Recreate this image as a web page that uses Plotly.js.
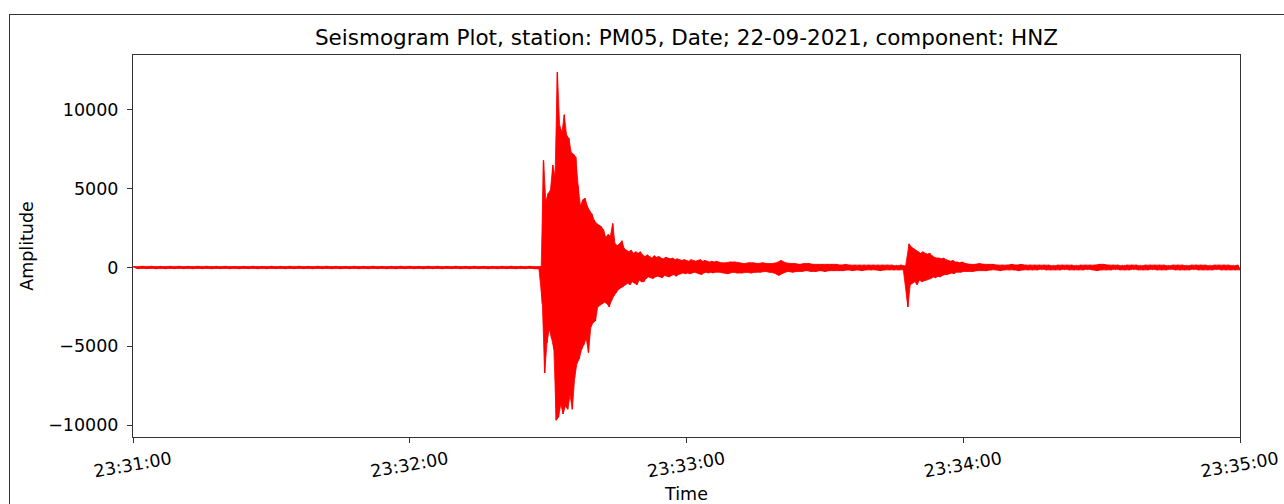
<!DOCTYPE html>
<html><head><meta charset="utf-8">
<script src="https://cdn.plot.ly/plotly-3.0.1.min.js"></script>
<style>
html,body{margin:0;padding:0;background:#fff;}
body{position:relative;width:1284px;height:504px;overflow:hidden;}
#chart{width:1284px;height:504px;}
#frame{position:absolute;left:9px;top:14px;width:1300px;height:600px;border-top:1.5px solid #333;border-left:1.5px solid #333;pointer-events:none;}
</style></head>
<body><div id="chart"></div><div id="frame"></div>
<script>
// ---- data (amplitude samples, counts) ----
var startTime = '2021-09-22 23:31:00';
var endTime = '2021-09-22 23:35:00';
var xTickLabels = ['23:31:00', '23:32:00', '23:33:00', '23:34:00', '23:35:00'];
var yTickValues = [-10000, -5000, 0, 5000, 10000];
var yTickLabels = ['\u221210000', '\u22125000', '0', '5000', '10000'];

// segment sample start (s after 23:31:00) and sample interval (s)
var segStart = [0, 88.5, 128, 168, 180.5];
var segStep = [1, 0.25, 0.5, 0.25, 0.5];

var quietAmp = [60,-70,70,-60,70,-70,60,-70,70,-60,
 70,-60,60,-70,70,-60,70,-70,60,-60,
 70,-70,60,-70,60,-60,70,-70,60,-70,
 70,-60,60,-70,70,-60,70,-60,60,-70,
 70,-60,70,-70,60,-70,60,-60,70,-70,
 60,-70,70,-60,60,-70,60,-70,70,-60,
 70,-60,60,-70,70,-60,70,-70,60,-60,
 70,-70,60,-70,70,-60,60,-70,60,-70,
 70,-60,70,-70,60,-60,70,-60,-60];

var mainAmp = [
 60,-2300,6800,-6700,
 4200,-4800,4700,-3900,
 4900,-4500,6500,-5200,
 5800,-9700,12400,-9500,
 9000,-8700,8600,-9300,
 9700,-8800,8400,-9000,
 8200,-8100,7300,-9000,
 7200,-7000,7000,-6100,
 5200,-5800,3900,-5200,
 4300,-4900,4400,-4500,
 3900,-5400,3600,-3800,
 3400,-3500,3000,-3400,
 2800,-2500,2700,-2400,
 2600,-2300,2400,-2200,
 1900,-2300,2100,-2500,
 2000,-2100,2800,-1800,
 1500,-1600,1400,-1400,
 1500,-1300,1700,-1200,
 1200,-1100,1100,-1000,
 1000,-1100,1100,-900,
 900,-1000,1000,-1100,
 900,-800,1000,-900,
 800,-900,700,-700,
 800,-600,700,-650,
 600,-700,750,-600,
 650,-550,700,-600,
 600,-650,550,-500,
 650,-550,600,-600,
 550,-500,600,-450,
 500,-550,550,-450,
 500,-400,450,-350,
 500,-400,450,-350,
 400,-400,500,-350,
 450,-300,400,-350,
 450,-400,500,-450,
 400,-350,450,-300,
 400,-350,350,-300,
 400,-350,350,-300,
 400,-300,350,-300,
 300];

var codaAmp = [
 -350,300,-400,350,-300,350,-350,300,-350,250,
 -300,300,-350,300,-300,250,-300,300,-250,250,
 -300,250,-350,300,-500,450,-350,300,-250,250,
 -300,250,-250,200,-250,250,-200,250,-250,200,
 -250,200,-200,200,-250,200,-200,200,-200,200,
 -200,150,-200,200,-150,150,-200,150,-150,150,
 -200,150,-150,150,-150,150,-150,150,-200,150,
 -150,150,-150,150,-150,100,-150,150,-150,100];

var secondAmp = [
 -2500,1500,-1100,1300,
 -1000,1200,-900,1100,
 -1100,1000,-800,900,
 -900,1000,-850,900,
 -800,850,-750,900,
 -700,750,-600,650,
 -650,600,-550,600,
 -600,550,-500,600,
 -450,500,-450,450,
 -400,400,-350,450,
 -400,350,-300,350,
 -300,300,-300,350,
 -250];

var tailAmp = [
 250,-250,200,-250,200,-200,250,-200,200,-200,200,-150,
 200,-150,150,-200,150,-150,150,-150,200,-150,150,-200,
 200,-150,150,-150,150,-150,150,-150,150,-100,150,-150,
 150,-150,100,-150,150,-150,150,-100,150,-150,150,-150,
 100,-150,150,-150,150,-100,150,-150,150,-200,200,-150,
 200,-150,150,-150,150,-100,150,-150,100,-150,150,-150,
 150,-100,150,-150,100,-150,150,-150,150,-100,150,-150,
 150,-150,150,-150,100,-100,150,-150,150,-150,150,-150,
 100,-150,150,-100,150,-150,150,-150,150,-150,100,-150,
 150,-100,150,-150,150,-150,150,-150,100,-150,150,-150];

// ---- build traces ----
function toMs(s){ var p = s.split(/[- :]/).map(Number); return Date.UTC(p[0], p[1]-1, p[2], p[3], p[4], p[5]); }
var t0 = toMs(startTime);
var segments = [quietAmp, mainAmp, codaAmp, secondAmp, tailAmp];
var xs = [], ys = [];
segments.forEach(function(seg, k){
  seg.forEach(function(v, i){ xs.push(t0 + (segStart[k] + i*segStep[k])*1000); ys.push(v); });
});
var xTickVals = xTickLabels.map(function(l){ return toMs('2021-09-22 ' + l); });

// envelope band: positive samples forward, negative samples back
var upX = [], upY = [], loX = [], loY = [];
xs.forEach(function(x, i){
  if (ys[i] >= 0) { upX.push(x); upY.push(ys[i]); } else { loX.push(x); loY.push(ys[i]); }
});
var band = {type:'scatter', mode:'lines', x:upX.concat(loX.slice().reverse()), y:upY.concat(loY.slice().reverse()),
  fill:'toself', fillcolor:'#ff0000', line:{color:'#ff0000', width:0.8, simplify:false}, hoverinfo:'skip'};

var trace = {type:'scatter', mode:'lines', x:xs, y:ys,
  line:{color:'#ff0000', width:1.4, simplify:false}, hoverinfo:'skip'};

var layout = {
  width:1284, height:504,
  margin:{l:133, r:44, t:55, b:67},
  paper_bgcolor:'#ffffff', plot_bgcolor:'#ffffff',
  font:{family:'DejaVu Sans, sans-serif', size:17.5, color:'#000'},
  showlegend:false,
  title:{text:'Seismogram Plot, station: PM05, Date; 22-09-2021, component: HNZ',
         font:{size:21.5, color:'#000'}, x:0.5, xref:'paper', xanchor:'center',
         y:1-37/504, yref:'container', yanchor:'middle'},
  xaxis:{type:'date', range:[t0, toMs(endTime)], tickvals:xTickVals, ticktext:xTickLabels,
         ticks:'outside', ticklen:5, tickwidth:1, tickcolor:'#333',
         showline:true, linecolor:'#333', linewidth:1, mirror:true,
         showgrid:false, zeroline:false, tickangle:-10, ticklabelshift:38,
         title:{text:'Time', standoff:12, font:{size:17.5}}},
  yaxis:{range:[-10760, 13490], tickvals:yTickValues, ticktext:yTickLabels,
         ticks:'outside', ticklen:5, tickwidth:1, tickcolor:'#333',
         showline:true, linecolor:'#333', linewidth:1, mirror:true,
         showgrid:false, zeroline:false, ticklabelstandoff:5,
         title:{text:'Amplitude', standoff:10, font:{size:17.5}}}
};
Plotly.newPlot('chart', [band, trace], layout, {displayModeBar:false, staticPlot:true});
</script></body></html>
